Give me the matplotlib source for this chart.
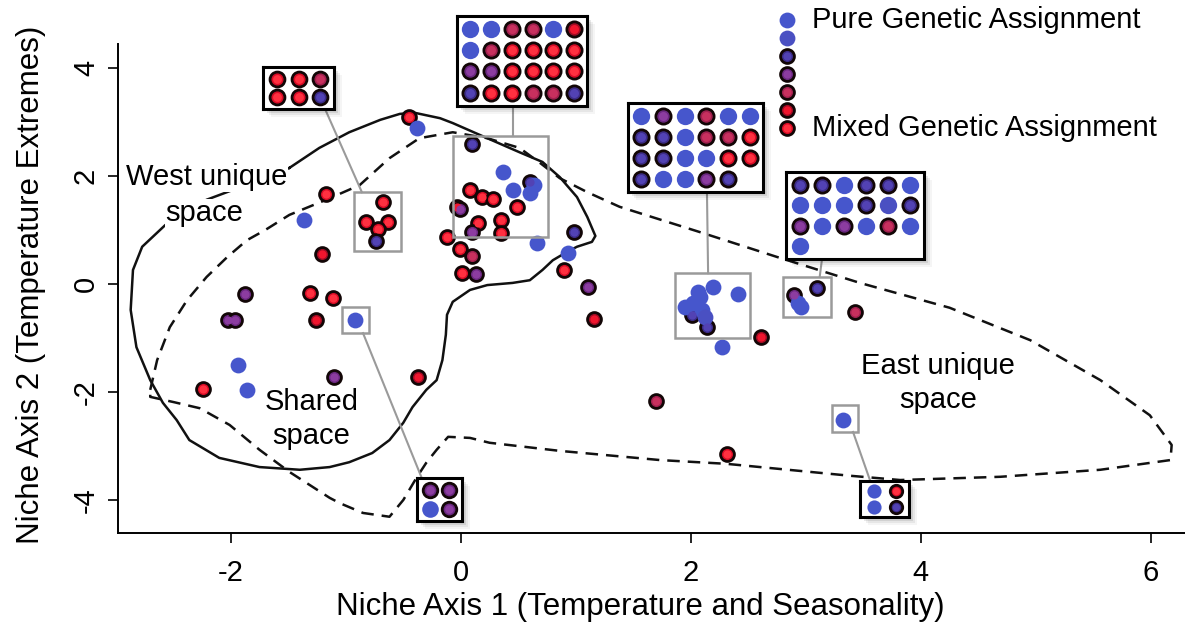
import matplotlib.pyplot as plt
from matplotlib.patches import Rectangle
from matplotlib.transforms import offset_copy

plt.rcParams['font.family'] = ['Liberation Sans', 'DejaVu Sans']
plt.rcParams['axes.unicode_minus'] = False

# 样本在两个生态位轴上的得分, level: 0 = 纯合遗传归属 ... 6 = 混合遗传归属
pts_x = [-2.24, -1.94, -1.86, -2.02, -1.96, -1.88, -1.36, -1.17, -1.21, -1.31,
         -1.11, -1.26, -0.92, -1.10, -0.37, -0.68, -0.82, -0.63, -0.72, -0.74,
         -0.45, -0.38, 0.10, 0.37, 0.60, 0.64, 0.60, 0.45, 0.08, 0.18,
         0.28, 0.49, -0.03, -0.01, 0.15, 0.35, 0.10, 0.35, -0.12, -0.01,
         0.10, 0.01, 0.13, 0.66, 0.98, 0.93, 0.90, 1.11, 1.16, 2.01,
         2.14, 1.95, 2.02, 2.08, 2.10, 2.19, 2.41, 2.12, 2.06, 2.27,
         2.61, 1.70, 2.31, 2.90, 3.10, 2.96, 2.93, 3.43, 3.32]
pts_y = [-1.94, -1.50, -1.96, -0.67, -0.67, -0.19, 1.19, 1.67, 0.56, -0.17,
         -0.26, -0.67, -0.67, -1.72, -1.72, 1.52, 1.15, 1.15, 1.02, 0.80,
         3.09, 2.89, 2.59, 2.07, 1.89, 1.83, 1.69, 1.74, 1.74, 1.61,
         1.57, 1.43, 1.43, 1.38, 1.13, 1.19, 0.96, 0.94, 0.87, 0.65,
         0.52, 0.20, 0.19, 0.76, 0.96, 0.57, 0.26, -0.06, -0.65, -0.57,
         -0.80, -0.43, -0.35, -0.24, -0.48, -0.06, -0.19, -0.62, -0.15, -1.17,
         -0.98, -2.17, -3.15, -0.20, -0.07, -0.43, -0.36, -0.52, -2.52]
pts_level = [6, 0, 0, 3, 3, 3, 0, 6, 5, 6,
             6, 5, 0, 3, 5, 6, 6, 6, 6, 2,
             6, 0, 2, 0, 2, 0, 0, 0, 6, 6,
             6, 6, 5, 3, 6, 6, 3, 6, 6, 6,
             4, 6, 3, 0, 2, 0, 6, 3, 5, 2,
             2, 0, 0, 0, 0, 0, 0, 1, 0, 0,
             5, 4, 6, 3, 2, 0, 0, 4, 0]

# 西部生态位轮廓(实线)
west_x = [-1.49, -1.23, -0.97, -0.70, -0.53, -0.40, -0.18, -0.07, 0.23, 0.51,
          0.71, 0.86, 1.01, 1.10, 1.17, 1.14, 1.01, 0.92, 0.80, 0.71,
          0.60, 0.45, 0.23, 0.08, -0.07, -0.12, -0.13, -0.16, -0.21, -0.30,
          -0.42, -0.50, -0.62, -0.77, -0.97, -1.14, -1.40, -1.75, -2.10, -2.36,
          -2.47, -2.59, -2.70, -2.82, -2.87, -2.85, -2.77, -2.57, -2.21, -1.82,
          -1.49]
west_y = [2.15, 2.52, 2.81, 3.04, 3.15, 3.17, 3.07, 2.98, 2.70, 2.44,
          2.26, 1.98, 1.61, 1.24, 0.89, 0.78, 0.69, 0.59, 0.44, 0.26,
          0.07, 0.02, -0.02, -0.11, -0.33, -0.57, -0.94, -1.41, -1.78, -1.96,
          -2.28, -2.57, -2.89, -3.13, -3.30, -3.39, -3.44, -3.39, -3.22, -2.89,
          -2.52, -2.20, -1.78, -1.17, -0.48, 0.26, 0.69, 1.09, 1.56, 1.87,
          2.15]

# 东部生态位轮廓(虚线)
east_x = [-2.70, -2.64, -2.53, -2.38, -2.21, -2.03, -1.86, -1.70, -1.49, -1.17,
          -0.88, -0.62, -0.36, -0.07, 0.23, 0.51, 0.69, 0.86, 1.10, 1.38,
          2.08, 2.75, 3.47, 4.25, 4.95, 5.56, 5.99, 6.18, 6.17, 5.56,
          4.69, 3.82, 3.38, 2.31, 1.73, 0.86, 0.25, 0.08, -0.11, -0.21,
          -0.30, -0.38, -0.50, -0.62, -0.85, -1.05, -1.14, -1.49, -1.75, -2.01,
          -2.27, -2.49, -2.70, -2.70]
east_y = [-1.96, -1.41, -0.80, -0.30, 0.13, 0.50, 0.81, 1.00, 1.28, 1.56,
          1.83, 2.33, 2.70, 2.81, 2.70, 2.52, 2.24, 1.96, 1.70, 1.43,
          0.96, 0.50, 0.02, -0.44, -1.04, -1.78, -2.43, -2.98, -3.26, -3.44,
          -3.57, -3.63, -3.55, -3.33, -3.26, -3.09, -2.94, -2.85, -2.83, -3.07,
          -3.31, -3.57, -4.00, -4.31, -4.24, -4.06, -3.96, -3.48, -3.07, -2.61,
          -2.30, -2.19, -2.09, -1.96]

# 灰色选框 (x0, x1, y0, y1)
zoom_boxes = [(-0.93, -0.52, 0.61, 1.70), (-0.07, 0.76, 0.87, 2.74),
              (1.86, 2.51, -1.00, 0.20), (2.80, 3.22, -0.61, 0.13),
              (-1.03, -0.80, -0.91, -0.43), (3.23, 3.45, -2.74, -2.24)]
# 放大框 (x0, x1, y0, y1) 及其中各样本的 level(按行)
inset_boxes = [(-1.72, -1.10, 3.24, 4.02), (-0.03, 1.10, 3.30, 4.96),
               (1.45, 2.63, 1.70, 3.35), (2.83, 4.03, 0.46, 2.07),
               (-0.38, 0.01, -4.39, -3.59), (3.47, 3.90, -4.31, -3.65)]
inset_grids = [
    [[6, 6, 4], [6, 6, 2]],
    [[0, 0, 4, 4, 0, 5], [0, 4, 6, 6, 6, 6], [3, 3, 6, 6, 6, 6], [2, 6, 6, 4, 4, 2]],
    [[0, 3, 0, 4, 0, 0], [2, 2, 0, 4, 4, 6], [2, 2, 0, 0, 6, 6], [2, 0, 0, 3, 2]],
    [[2, 2, 0, 2, 2, 0], [0, 0, 0, 2, 1, 2], [3, 0, 3, 0, 4, 0], [0]],
    [[3, 3], [0, 3]],
    [[0, 6], [0, 2]],
]
inset_dot_size = [115, 120, 120, 120, 110, 80]
# 连线: 放大框 -> 选框
links = [((-1.18, 3.24), (-0.86, 1.70)), ((0.45, 3.30), (0.45, 2.74)),
         ((2.14, 1.70), (2.15, 0.20)), ((3.14, 0.46), (3.12, 0.13)),
         ((-0.34, -3.59), (-0.85, -0.91)), ((3.56, -3.65), (3.41, -2.74))]

legend_levels = [0, 1, 2, 3, 4, 5, 6]

# level -> (填充色, 中心高光, 是否黑边)
level_styles = {
    0: ('#4656cc', None, False),
    1: ('#4a50c2', None, False),
    2: ('#3c2c86', '#5242b4', True),
    3: ('#6a2880', '#8c3ca0', True),
    4: ('#a0204e', '#c8305e', True),
    5: ('#a00c24', '#f0162e', True),
    6: ('#d80c26', '#ff3040', True),
}


def draw_dots(a, xs, ys, levels, size=100, z=3):
    for x, y, lev in zip(xs, ys, levels):
        fill, core, edged = level_styles[lev]
        if not edged:
            a.scatter(x, y, s=size * 1.3, c=fill, linewidths=0, zorder=z, clip_on=False)
        else:
            a.scatter(x, y, s=size, c=fill, edgecolors='#120606', linewidths=2.0,
                      zorder=z, clip_on=False)
            a.scatter(x, y, s=size * 0.35, c=core, linewidths=0, zorder=z + 0.1,
                      clip_on=False)


fig = plt.figure(figsize=(11.85, 6.34), dpi=100)
ax = fig.add_axes([0.0996, 0.1593, 0.9004, 0.8407])
ax.set_xlim(-2.98, 6.296)
ax.set_ylim(-4.611, 5.259)

ax.plot(west_x, west_y, color='#111111', lw=1.8, zorder=2)
ax.plot(east_x, east_y, color='#111111', lw=1.8, ls=(0, (5, 3.2)), zorder=2)

draw_dots(ax, pts_x, pts_y, pts_level)

for x0, x1, y0, y1 in zoom_boxes:
    ax.add_patch(Rectangle((x0, y0), x1 - x0, y1 - y0, fill=False,
                           ec='#9a9a9a', lw=1.8, zorder=4))
for (xa, ya), (xb, yb) in links:
    ax.plot([xa, xb], [ya, yb], color='#9a9a9a', lw=1.5, zorder=4)

for (x0, x1, y0, y1), grid, dsz in zip(inset_boxes, inset_grids, inset_dot_size):
    # 阴影
    for k, a in enumerate([0.12, 0.09, 0.06, 0.04]):
        tr = offset_copy(ax.transData, fig, x=2 * (k + 1), y=-2 * (k + 1), units='dots')
        ax.add_patch(Rectangle((x0, y0), x1 - x0, y1 - y0, transform=tr,
                               fc='black', ec='none', alpha=a, zorder=4.5))
    iax = ax.inset_axes([x0, y0, x1 - x0, y1 - y0], transform=ax.transData, zorder=5)
    nrow = len(grid)
    ncol = max(len(r) for r in grid)
    iax.set_xlim(0.37, ncol + 0.63)
    iax.set_ylim(nrow + 0.63, 0.37)
    gx, gy, gl = [], [], []
    for r, row in enumerate(grid):
        for c, lev in enumerate(row):
            gx.append(c + 1)
            gy.append(r + 1)
            gl.append(lev)
    draw_dots(iax, gx, gy, gl, size=dsz)
    iax.set_xticks([])
    iax.set_yticks([])
    for sp in iax.spines.values():
        sp.set_linewidth(2.2)
        sp.set_color('black')

# 图例
leg_y = [4.89 - 0.335 * i for i in range(len(legend_levels))]
draw_dots(ax, [2.84] * len(legend_levels), leg_y, legend_levels)
ax.text(3.05, leg_y[0], 'Pure Genetic Assignment', fontsize=21, va='center', ha='left')
ax.text(3.05, leg_y[-1], 'Mixed Genetic Assignment', fontsize=21, va='center', ha='left')

# 区域标注
wb = dict(fc='white', ec='none', pad=0.5)
ax.text(-2.21, 1.98, 'West unique', fontsize=21, ha='center', va='center', bbox=wb, zorder=6)
ax.text(-2.23, 1.31, 'space', fontsize=21, ha='center', va='center', bbox=wb, zorder=6)
ax.text(-1.30, -2.50, 'Shared\nspace', fontsize=21, ha='center', va='center', linespacing=1.3)
ax.text(4.15, -1.83, 'East unique\nspace', fontsize=21, ha='center', va='center', linespacing=1.25)

ax.spines['top'].set_visible(False)
ax.spines['right'].set_visible(False)
ax.spines['left'].set_bounds(-4.611, 4.45)
ax.spines['left'].set_linewidth(1.4)
ax.spines['bottom'].set_linewidth(1.4)
ax.set_xticks([-2, 0, 2, 4, 6])
ax.set_yticks([-4, -2, 0, 2, 4])
ax.tick_params(length=7, width=1.2, labelsize=21, direction='out')
ax.tick_params(axis='x', pad=12)
ax.tick_params(axis='y', labelrotation=90, pad=6)
for lab in ax.get_yticklabels():
    lab.set_va('center')

fig.text(0.54, 0.043, 'Niche Axis 1 (Temperature and Seasonality)', fontsize=22.5,
         ha='center', va='center')
fig.text(0.026, 0.55, 'Niche Axis 2 (Temperature Extremes)', fontsize=22.5,
         ha='center', va='center', rotation=90)

plt.savefig('out.png', dpi=100)
